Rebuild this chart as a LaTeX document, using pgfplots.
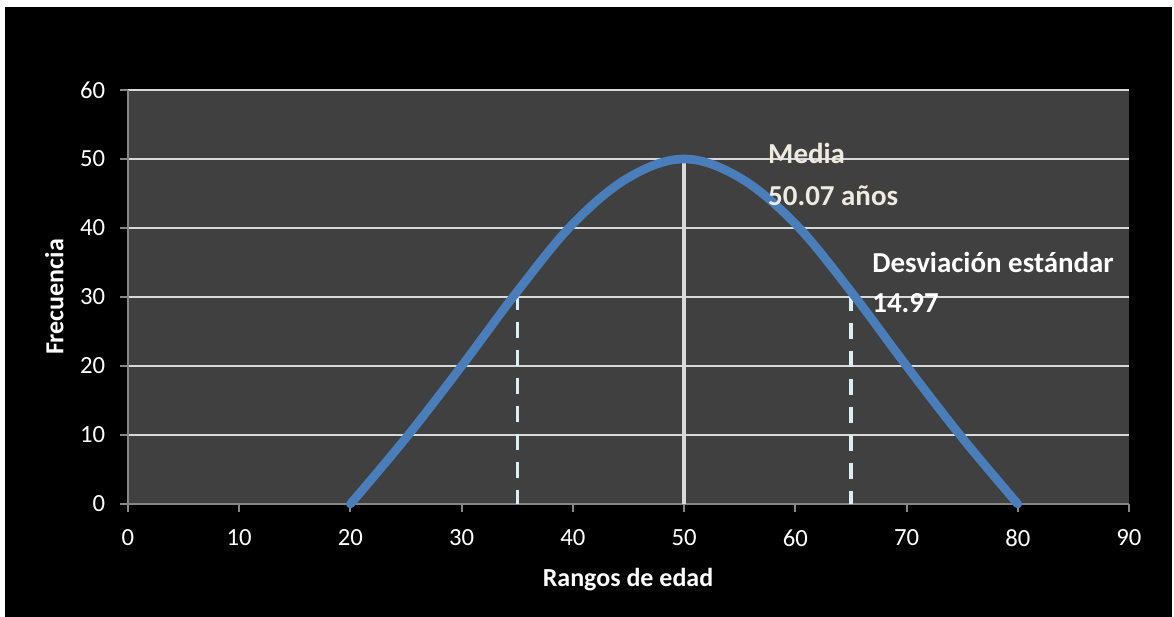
\documentclass[border=0pt]{standalone}
\usepackage{pgfplots}
\pgfplotsset{compat=1.18}
\usepackage{fontspec}
\setmainfont{Carlito}

\definecolor{areabg}{HTML}{404040}
\definecolor{gridc}{HTML}{D9D9D9}
\definecolor{axisc}{HTML}{868686}
\definecolor{curve}{HTML}{4A7EBB}
\definecolor{sdline}{HTML}{DBEEF4}
\definecolor{meantext}{HTML}{EEECE1}

\begin{document}
\begin{tikzpicture}
% page and chart area (origin = lower left corner of the plot area)
\fill[white] (-96pt,-84.75pt) rectangle (784.5pt,378pt);
\fill[black] (-92.25pt,-84.75pt) rectangle (783pt,372.75pt);

\begin{axis}[
  at={(0pt,0pt)}, anchor=south west,
  scale only axis, width=750.75pt, height=310.5pt,
  xmin=0, xmax=90, ymin=0, ymax=60,
  xtick={0,10,...,90}, ytick={0,10,...,60},
  axis background/.style={fill=areabg},
  axis x line*=bottom, axis y line*=left,
  axis line style={axisc, line width=1.5pt, -},
  ymajorgrids, grid style={gridc, line width=1.5pt},
  tick align=outside, major tick length=6pt,
  tick style={axisc, line width=1.5pt},
  /pgf/number format/assume math mode=true,
  ticklabel style={font=\fontsize{18.5}{22}\selectfont, text=white},
  xticklabel style={anchor=north, inner sep=0pt, yshift=-13pt},
  yticklabel style={anchor=east, inner sep=0pt, xshift=-11pt},
  clip=false,
]
% mean marker
\addplot[gridc, line width=2.5pt] coordinates {(50,0) (50,49.6)};
% one standard deviation either side
\addplot[sdline, line width=2.6pt, dash pattern=on 12pt off 9pt] coordinates {(35,30.5) (35,0)};
\addplot[sdline, line width=2.6pt, dash pattern=on 12pt off 9pt] coordinates {(65,30.3) (65,0)};
% age distribution
\addplot[curve, line width=6.5pt, smooth, tension=0.6, line cap=round] coordinates {
  (20,0) (25,9.6) (30,20) (35,30.8) (40,40.6) (45,47.3) (50,50)
  (55,47.3) (60,40.6) (65,30.8) (70,20) (75,9.6) (80,0)
};
\node[anchor=base west, inner sep=0pt, text=meantext, font=\bfseries\fontsize{21.7}{26}\selectfont] at (axis cs:57.54,49.4) {Media};
\node[anchor=base west, inner sep=0pt, text=meantext, font=\bfseries\fontsize{21.7}{26}\selectfont] at (axis cs:57.54,43.2) {50.07 años};
\node[anchor=base west, inner sep=0pt, text=white, font=\bfseries\fontsize{21.7}{26}\selectfont] at (axis cs:66.9,33.5) {Desviación estándar};
\node[anchor=base west, inner sep=0pt, text=white, font=\bfseries\fontsize{21.7}{26}\selectfont] at (axis cs:66.9,27.7) {14.97};
\end{axis}

\node[anchor=base, inner sep=0pt, text=white, font=\bfseries\fontsize{19.5}{23}\selectfont] at (375pt,-61.5pt) {Rangos de edad};
\node[anchor=base, rotate=90, inner sep=0pt, text=white, font=\bfseries\fontsize{19.5}{23}\selectfont] at (-48.4pt,155.25pt) {Frecuencia};
\end{tikzpicture}
\end{document}
